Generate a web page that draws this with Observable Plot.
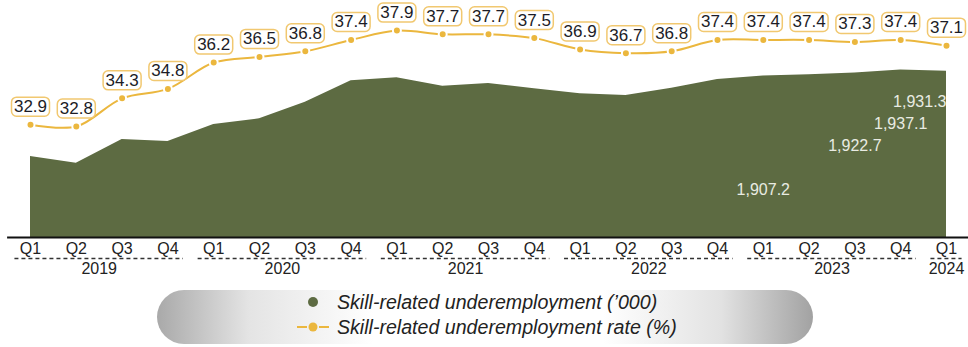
<!DOCTYPE html>
<html>
<head>
<meta charset="utf-8">
<script src="https://cdn.jsdelivr.net/npm/d3@7"></script>
<script src="https://cdn.jsdelivr.net/npm/@observablehq/plot@0.6"></script>
<style>
  html, body { margin: 0; padding: 0; background: #fff; }
  body { width: 968px; height: 347px; overflow: hidden; font-family: "Liberation Sans", Arial, sans-serif; }
  #chart { position: relative; width: 968px; height: 280px; }
  #chart svg { position: absolute; left: 0; top: 0; overflow: visible; }
  #legend {
    position: absolute; left: 157px; top: 290px; width: 656px; height: 54px;
    border-radius: 27px;
    background: linear-gradient(to right, #a9a9a9 0%, #e4e4e4 14%, #ffffff 33%, #ffffff 68%, #e2e2e2 86%, #a2a2a2 100%);
  }
  .lg-row { position: absolute; left: 138px; height: 22px; display: flex; align-items: center; }
  .lg-row span { font-style: italic; font-size: 19.6px; color: #222; margin-left: 6px; white-space: nowrap; }
</style>
</head>
<body>
<div id="chart"></div>
<div id="legend">
  <div class="lg-row" style="top:1px">
    <svg width="36" height="22"><circle cx="18" cy="11" r="5" fill="#5d6b42"></circle></svg>
    <span>Skill-related underemployment (’000)</span>
  </div>
  <div class="lg-row" style="top:26px">
    <svg width="36" height="22">
      <line x1="2" y1="11" x2="12" y2="11" stroke="#ebb73e" stroke-width="2"></line>
      <line x1="24" y1="11" x2="34" y2="11" stroke="#ebb73e" stroke-width="2"></line>
      <circle cx="18" cy="11" r="4.5" fill="#ebb73e"></circle>
    </svg>
    <span>Skill-related underemployment rate (%)</span>
  </div>
</div>
<script>
// ---- data ----
const years = ["2019", "2020", "2021", "2022", "2023", "2024"];
const quarters = ["Q1","Q2","Q3","Q4","Q1","Q2","Q3","Q4","Q1","Q2","Q3","Q4","Q1","Q2","Q3","Q4","Q1","Q2","Q3","Q4","Q1"];
const quarterYears = ["2019","2019","2019","2019","2020","2020","2020","2020","2021","2021","2021","2021","2022","2022","2022","2022","2023","2023","2023","2023","2024"];
const underemployment = [1505, 1471.5, 1590, 1580, 1665, 1693.5, 1776.5, 1883.5, 1898.5, 1856.5, 1870, 1843.5, 1818.5, 1810, 1846.5, 1890, 1907.2, 1914, 1922.7, 1937.1, 1931.3];
const rate = [32.9, 32.8, 34.3, 34.8, 36.2, 36.5, 36.8, 37.4, 37.9, 37.7, 37.7, 37.5, 36.9, 36.7, 36.8, 37.4, 37.4, 37.4, 37.3, 37.4, 37.1];
const labelledPeriods = ["2023 Q1", "2023 Q3", "2023 Q4", "2024 Q1"];

// ---- table ----
const rows = quarters.map((q, i) => ({
  i, quarter: q, year: quarterYears[i], period: quarterYears[i] + " " + q,
  count: underemployment[i], rate: rate[i]
}));
const yearGroups = years.map(y => {
  const idx = rows.filter(r => r.year === y).map(r => r.i);
  return {year: y, start: d3.min(idx), end: d3.max(idx)};
});

// ---- layout / style ----
const W = 968, H = 280, mL = 30, mR = 22, mT = 0, mB = 43;
const countMin = 1100, countMax = 2285;
const rateMin = 26.9, rateMax = 39.5;
const green = "#5d6b42", gold = "#ebb73e", boxStroke = "#f1c870";
const font = "Liberation Sans, Arial, sans-serif";
// vertical offsets (px) of the white value labels inside the area
const labelDy = {"2023 Q1": 114, "2023 Q3": 73, "2023 Q4": 54, "2024 Q1": 31};
const labelAnchor = {"2023 Q1": "middle", "2023 Q3": "middle", "2023 Q4": "middle", "2024 Q1": "end"};

const base = {
  width: W, height: H, marginLeft: mL, marginRight: mR, marginTop: mT, marginBottom: mB,
  x: {type: "linear", domain: [0, quarters.length - 1], axis: null},
  style: {fontFamily: font, background: "transparent", overflow: "visible"}
};

const labelled = rows.filter(r => labelledPeriods.includes(r.period));

const areaPlot = Plot.plot({
  ...base,
  y: {domain: [countMin, countMax], axis: null},
  marks: [
    Plot.areaY(rows, {x: "i", y1: () => countMin, y2: "count", fill: green, curve: "linear"}),
    ...labelled.map(r => Plot.text([r], {
      x: "i", y: "count", text: d => d3.format(",.1f")(d.count),
      dy: labelDy[r.period], textAnchor: labelAnchor[r.period],
      fill: "#e9ebe2", fontSize: 16
    })),
    Plot.ruleY([countMin], {x1: -0.5, x2: quarters.length - 0.5, stroke: "#111", strokeWidth: 1.8}),
    Plot.text(rows, {x: "i", text: "quarter", frameAnchor: "bottom", lineAnchor: "middle", dy: 11, fontSize: 16, fill: "#222"}),
    Plot.ruleY(yearGroups, {y: () => countMin, x1: d => d.start - 0.34, x2: d => d.end + 0.34, dy: 21, stroke: "#333", strokeWidth: 1.3, strokeDasharray: "4,3"}),
    Plot.text(yearGroups, {x: d => (d.start + d.end) / 2, text: "year", frameAnchor: "bottom", lineAnchor: "middle", dy: 31.5, fontSize: 16, fill: "#222"})
  ]
});

// rounded box symbol for the rate labels
const roundBox = {
  draw(ctx) {
    const w = 38, h = 19, r = 5;
    ctx.moveTo(-w/2 + r, -h/2);
    ctx.lineTo(w/2 - r, -h/2);
    ctx.arcTo(w/2, -h/2, w/2, -h/2 + r, r);
    ctx.lineTo(w/2, h/2 - r);
    ctx.arcTo(w/2, h/2, w/2 - r, h/2, r);
    ctx.lineTo(-w/2 + r, h/2);
    ctx.arcTo(-w/2, h/2, -w/2, h/2 - r, r);
    ctx.lineTo(-w/2, -h/2 + r);
    ctx.arcTo(-w/2, -h/2, -w/2 + r, -h/2, r);
    ctx.closePath();
  }
};

const linePlot = Plot.plot({
  ...base,
  y: {domain: [rateMin, rateMax], axis: null},
  marks: [
    Plot.line(rows, {x: "i", y: "rate", stroke: gold, strokeWidth: 2, curve: "catmull-rom"}),
    Plot.dot(rows, {x: "i", y: "rate", r: 4, fill: gold, stroke: "white", strokeWidth: 2}),
    Plot.dot(rows, {x: "i", y: "rate", symbol: roundBox, r: 5, fill: "white", stroke: boxStroke, strokeWidth: 1.5, dy: -18}),
    Plot.text(rows, {x: "i", y: "rate", text: d => d.rate.toFixed(1), dy: -18, fontSize: 17, fill: "#1c1c26"})
  ]
});

const chart = document.getElementById("chart");
chart.appendChild(areaPlot);
chart.appendChild(linePlot);
</script>
</body>
</html>
